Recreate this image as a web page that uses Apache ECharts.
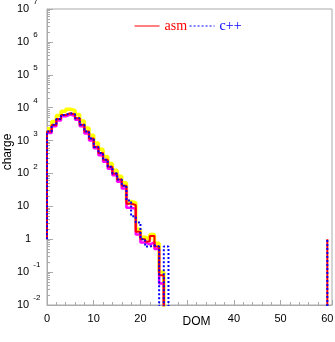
<!DOCTYPE html>
<html><head><meta charset="utf-8">
<script src="https://cdn.jsdelivr.net/npm/echarts@6/dist/echarts.min.js"></script>
<style>html,body{margin:0;padding:0;background:#fff}#c{width:335px;height:342px}</style>
</head><body><div id="c"></div>
<script>
// DOM bin lower edges (bin width 1)
const domBins = [0,1,2,3,4,5,6,7,8,9,10,11,12,13,14,15,16,17,18,19,20,21,22,23,24,25,26];
// charge per DOM bin (0 = empty bin)
const asmCharge   = [1900,2950,4500,6000,6800,6200,4800,3000,1900,1150,650,420,260,160,100,66,42,12,11,1.7,1.0,0.85,1.25,0.6,0.08,0];
const cppCharge   = [1900,3000,4500,6000,6800,6300,4800,3000,1900,1150,640,420,260,160,100,66,42,15,5,3.2,1.0,0.6,0.65,0.6,0,0.6,0];
const upperCharge = [2300,3800,5800,7800,9000,8200,6200,3900,2400,1450,850,540,330,200,125,82,52,14,13,2.0,1.15,1.0,1.4,0.75,0.1,0];
const lowerCharge = [1700,2700,4100,5500,6200,5600,4300,2700,1650,1000,580,360,225,140,88,56,35,9,8.5,1.4,0.8,0.7,0.8,0.5,0.045,0];
const startLevel = 1;          // outline of asm / c++ begins at this level at DOM 0
const tailDom = [60];
const tailAsm = [1];
const tailCpp = [1];
const xTickLabels = [0,10,20,40,50,60];   // "30" is covered by the axis title in the reference
const yExponents = [-2,-1,0,1,2,3,4,5,6,7];

const FLOOR = 1e-3; // below the axis minimum: empty bins drop out of the frame

function outline(vals, start) {
  const pts = [];
  if (start != null) pts.push([domBins[0], start]);
  vals.forEach((v, i) => pts.push([domBins[i], v > 0 ? v : FLOOR]));
  return pts;
}
function spike(doms, vals) {
  const pts = [];
  doms.forEach((d, i) => { pts.push([d, FLOOR]); pts.push([d, vals[i]]); });
  return pts;
}

const axisGray = '#aaa';
const sans = 'Liberation Sans';
const chart = echarts.init(document.getElementById('c'));
chart.setOption({
  animation: false,
  backgroundColor: '#fff',
  grid: { left: 47, top: 9, width: 285, height: 296, show: true, borderColor: axisGray, borderWidth: 1,
          containLabel: false, outerBoundsMode: 'none' },
  legend: {
    data: [
      { name: 'asm', textStyle: { color: '#ff0000' } },
      { name: 'c++', textStyle: { color: '#0000ff' } }
    ],
    left: 129, top: 14, itemWidth: 25, itemHeight: 12, itemGap: 2,
    lineStyle: { width: 1 },
    itemStyle: { opacity: 0 },
    textStyle: { fontFamily: 'Liberation Serif', fontSize: 14 }
  },
  xAxis: [{
    type: 'value', min: 0, max: 61, interval: 10,
    name: 'DOM', nameLocation: 'middle', nameGap: 11, nameMoveOverlap: false,
    nameTextStyle: { fontFamily: sans, fontSize: 12, color: '#000', padding: [0, 0, 0, 14] },
    axisLine: { show: true, lineStyle: { color: axisGray } },
    axisTick: { show: true, inside: true, length: 5, lineStyle: { color: axisGray } },
    axisLabel: { fontFamily: sans, fontSize: 11, color: '#000', margin: 8,
      formatter: v => xTickLabels.indexOf(v) >= 0 ? String(v) : '' },
    splitLine: { show: false }
  }, {
    type: 'value', min: 0, max: 61, interval: 2, position: 'bottom',
    axisLine: { show: false },
    axisTick: { show: true, inside: true, length: 3, lineStyle: { color: axisGray } },
    axisLabel: { show: false }, splitLine: { show: false }
  }],
  yAxis: {
    type: 'log', logBase: 10, min: 0.01, max: 1e7, splitNumber: 9,
    name: 'charge', nameLocation: 'middle', nameGap: 33, nameRotate: 90, nameMoveOverlap: false,
    nameTextStyle: { fontFamily: sans, fontSize: 12, color: '#000', padding: [0, 0, 0, 10] },
    axisLine: { show: true, lineStyle: { color: axisGray } },
    axisTick: { show: true, inside: true, length: 6, lineStyle: { color: axisGray } },
    minorTick: { show: true, splitNumber: 9, length: 3, lineStyle: { color: axisGray } },
    axisLabel: {
      align: 'left', margin: 30,
      formatter: v => {
        const e = Math.round(Math.log10(v));
        if (yExponents.indexOf(e) < 0) return '';
        if (e === 0) return '{one|1}';
        if (e === 1) return '{b|10}';
        return '{b|10}{s|' + e + '}';
      },
      rich: {
        b: { fontFamily: sans, fontSize: 11, color: '#000', lineHeight: 22 },
        s: { fontFamily: sans, fontSize: 8, color: '#000', verticalAlign: 'top', padding: [0, 0, 0, 4] },
        one: { fontFamily: sans, fontSize: 11, color: '#000', padding: [0, 0, 0, 8] }
      }
    },
    splitLine: { show: false }
  },
  series: [
    { name: 'upper', type: 'line', step: 'end', symbol: 'none', data: outline(upperCharge, null),
      lineStyle: { color: '#ffff00', width: 3.5 }, itemStyle: { color: '#ffff00' }, z: 1 },
    { name: 'lower', type: 'line', step: 'end', symbol: 'none', data: outline(lowerCharge, null),
      lineStyle: { color: '#ff00ff', width: 2.5 }, itemStyle: { color: '#ff00ff' }, z: 2 },
    { name: 'asm', type: 'line', step: 'end', symbol: 'none', data: outline(asmCharge, startLevel),
      lineStyle: { color: '#ff0000', width: 2 }, itemStyle: { color: '#ff0000' }, z: 3 },
    { name: 'c++', type: 'line', step: 'end', symbol: 'none', data: outline(cppCharge, startLevel),
      lineStyle: { color: '#0000ff', width: 2, type: [2, 2] }, itemStyle: { color: '#0000ff' }, z: 4 },
    { name: 'asm', type: 'line', symbol: 'none', data: spike(tailDom, tailAsm),
      lineStyle: { color: '#ff0000', width: 2 }, itemStyle: { color: '#ff0000' }, z: 3 },
    { name: 'c++', type: 'line', symbol: 'none', data: spike(tailDom, tailCpp),
      lineStyle: { color: '#0000ff', width: 2, type: [2, 2] }, itemStyle: { color: '#0000ff' }, z: 4 }
  ]
});
</script></body></html>
